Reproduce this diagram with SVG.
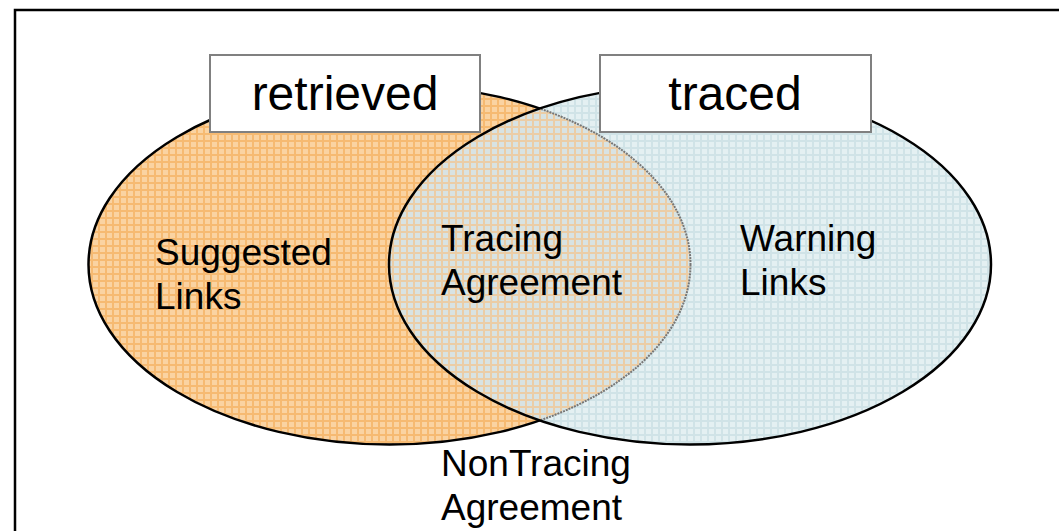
<svg xmlns="http://www.w3.org/2000/svg" width="1059" height="531" viewBox="0 0 1059 531">
  <style>
    .lbl { font-family: "Liberation Sans", Arial, sans-serif; font-size: 37px; fill: #000; }
    .title { font-family: "Liberation Sans", Arial, sans-serif; font-size: 48px; fill: #000; text-anchor: middle; }
    .box { fill: #fff; stroke: #808080; stroke-width: 2; }
    .edge { fill: none; stroke: #000; stroke-width: 2.5; }
  </style>
  <defs>
    <pattern id="pOrange" width="7" height="7" patternUnits="userSpaceOnUse">
      <rect width="7" height="7" fill="#FAD3A2"/>
      <rect width="7" height="2" fill="#F6BA72"/>
      <rect width="2" height="7" fill="#F6BA72"/>
    </pattern>
    <pattern id="pBlue" width="7" height="7" patternUnits="userSpaceOnUse">
      <rect width="7" height="7" fill="#E4F0F2"/>
      <rect width="7" height="2" fill="#D0E3E7"/>
      <rect width="2" height="7" fill="#D0E3E7"/>
    </pattern>
    <pattern id="pMix" width="7" height="7" patternUnits="userSpaceOnUse">
      <rect width="7" height="7" fill="#D8E3E3"/>
      <rect width="7" height="2" fill="#EBCDA6"/>
      <rect width="2" height="7" fill="#EBCDA6"/>
    </pattern>
    <clipPath id="clipBlue">
      <ellipse cx="690" cy="264.5" rx="301" ry="180"/>
    </clipPath>
  </defs>

  <rect x="15" y="10" width="1070" height="540" fill="#fff" stroke="#000" stroke-width="2.5"/>

  <g id="retrieved-set">
    <ellipse cx="389.5" cy="264.5" rx="301" ry="180" fill="url(#pOrange)" stroke="#000" stroke-width="2.5"/>
  </g>
  <g id="traced-set">
    <ellipse cx="690" cy="264.5" rx="301" ry="180" fill="url(#pBlue)"/>
  </g>
  <g id="intersection">
    <ellipse cx="389.5" cy="264.5" rx="301" ry="180" fill="url(#pMix)" clip-path="url(#clipBlue)"/>
    <ellipse cx="389.5" cy="264.5" rx="301" ry="180" fill="none" stroke="#777" stroke-width="2" stroke-dasharray="2 1" clip-path="url(#clipBlue)"/>
  </g>
  <g id="connectors">
    <ellipse class="edge" cx="690" cy="264.5" rx="301" ry="180"/>
  </g>

  <g id="label-retrieved">
    <rect class="box" x="210" y="55" width="270" height="77"/>
    <text class="title" x="345" y="110">retrieved</text>
  </g>
  <g id="label-traced">
    <rect class="box" x="600" y="55" width="271" height="77"/>
    <text class="title" x="735" y="110">traced</text>
  </g>

  <g id="suggested">
    <text class="lbl" x="155" y="265">Suggested</text>
    <text class="lbl" x="155" y="309">Links</text>
  </g>
  <g id="tracing-agreement">
    <text class="lbl" x="441" y="251">Tracing</text>
    <text class="lbl" x="441" y="295">Agreement</text>
  </g>
  <g id="warning">
    <text class="lbl" x="740" y="251">Warning</text>
    <text class="lbl" x="740" y="295">Links</text>
  </g>
  <g id="nontracing">
    <text class="lbl" x="441" y="476">NonTracing</text>
    <text class="lbl" x="441" y="520">Agreement</text>
  </g>
</svg>
